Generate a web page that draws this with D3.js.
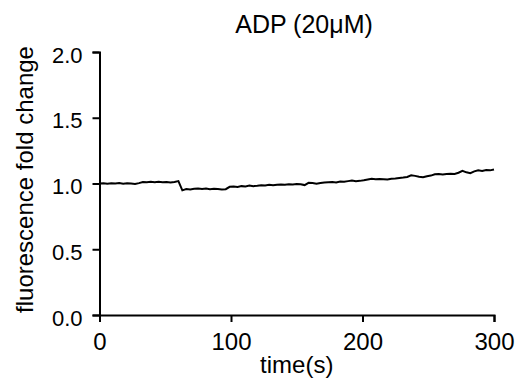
<!doctype html>
<html>
	<head>
		<title>ADP (20μM)</title>
		<script src="https://d3js.org/d3.v7.min.js"></script>
		<style>
		body { margin: 0; background: #fff; }
		svg { display: block; font-family: "Liberation Sans", Arial, sans-serif; }
		</style>
	</head>
	<body>
		<svg width="519" height="387"></svg>
		<script>
		// time (s) and fluorescence fold change
		var times = d3.range(0, 301, 3);
		var foldChange = [
			1.000, 1.002, 0.998, 1.001, 1.000, 1.003, 0.999, 1.002, 1.000, 0.997,
			1.003, 1.012, 1.010, 1.013, 1.009, 1.014, 1.010, 1.012, 1.008, 1.011,
			1.018, 0.948, 0.958, 0.955, 0.960, 0.962, 0.958, 0.961, 0.957, 0.960,
			0.958, 0.955, 0.957, 0.975, 0.978, 0.974, 0.980, 0.978, 0.984, 0.980,
			0.983, 0.987, 0.984, 0.990, 0.986, 0.990, 0.993, 0.990, 0.995, 0.993,
			0.997, 0.995, 0.988, 1.005, 1.003, 0.998, 1.004, 1.008, 1.010, 1.012,
			1.008, 1.015, 1.013, 1.018, 1.022, 1.018, 1.020, 1.024, 1.030, 1.036,
			1.033, 1.034, 1.032, 1.030, 1.036, 1.038, 1.042, 1.045, 1.050, 1.062,
			1.058, 1.052, 1.048, 1.055, 1.060, 1.070, 1.072, 1.068, 1.072, 1.075,
			1.073, 1.082, 1.097, 1.085, 1.078, 1.092, 1.100, 1.096, 1.102, 1.100,
			1.107
		];
		var xTicks = [0, 100, 200, 300];
		var yTicks = [0, 0.5, 1.0, 1.5, 2.0];

		var svg = d3.select("svg");
		var font = "'Liberation Sans', Arial, sans-serif";

		var x = d3.scaleLinear().domain([0, 300]).range([99.5, 494]);
		var y = d3.scaleLinear().domain([0, 2]).range([315, 52]);

		var xAxis = svg.append("g")
			.attr("transform", "translate(0," + y(0) + ")")
			.call(d3.axisBottom(x).tickValues(xTicks).tickSize(7).tickPadding(11).tickFormat(d3.format("d")));

		var yAxis = svg.append("g")
			.attr("transform", "translate(" + x(0) + ",0)")
			.call(d3.axisLeft(y).tickValues(yTicks).tickSize(7).tickPadding(10).tickFormat(d3.format(".1f")));

		[xAxis, yAxis].forEach(function(g) {
			g.select(".domain").attr("stroke", "#000").attr("stroke-width", 2);
			g.selectAll(".tick line").attr("stroke", "#000").attr("stroke-width", 2);
			g.selectAll(".tick text").attr("fill", "#000").style("font-family", font);
		});
		xAxis.selectAll(".tick text").style("font-size", "24px");
		yAxis.selectAll(".tick text").style("font-size", "22px").attr("dy", "0.46em");

		var line = d3.line()
			.x(function(d, i) { return x(times[i]); })
			.y(function(d) { return y(d); });

		svg.append("path")
			.datum(foldChange)
			.attr("fill", "none")
			.attr("stroke", "#000")
			.attr("stroke-width", 2)
			.attr("d", line);

		svg.append("text")
			.attr("x", 304)
			.attr("y", 33)
			.attr("text-anchor", "middle")
			.style("font-size", "25px")
			.text("ADP (20μM)");

		svg.append("text")
			.attr("x", (x(0) + x(300)) / 2)
			.attr("y", 373)
			.attr("text-anchor", "middle")
			.style("font-size", "24px")
			.text("time(s)");

		svg.append("text")
			.attr("transform", "translate(33," + (y(1) - 4) + ") rotate(-90)")
			.attr("text-anchor", "middle")
			.style("font-size", "24px")
			.text("fluorescence fold change");
		</script>
	</body>
</html>
